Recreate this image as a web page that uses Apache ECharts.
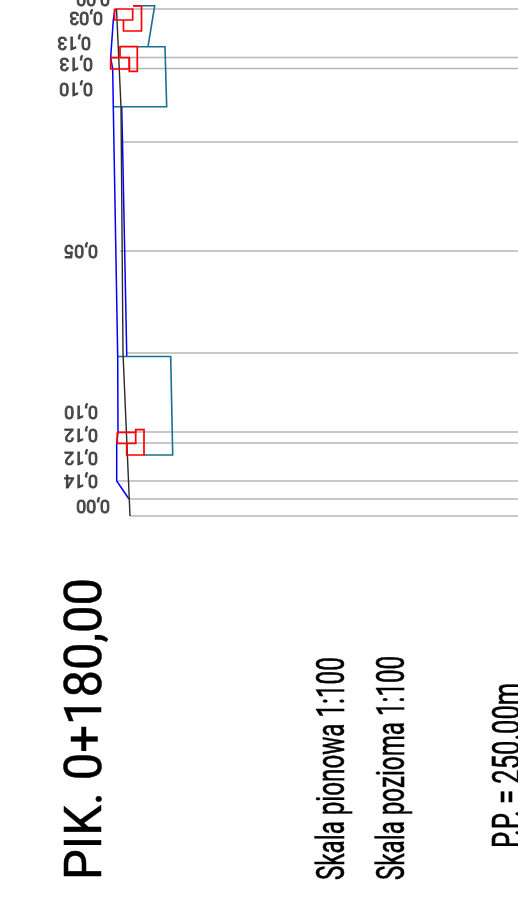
<!DOCTYPE html>
<html>
<head>
<meta charset="utf-8">
<style>html,body{margin:0;padding:0;background:#fff;overflow:hidden}#c{width:518px;height:908px}</style>
<script src="https://cdn.jsdelivr.net/npm/echarts@6/dist/echarts.min.js"></script>
</head>
<body>
<div id="c"></div>
<script>
// grid lines: level (vertical drawing coordinate) and start offset
const levels = [9, 57.5, 68.5, 142, 251, 353, 432, 443, 481, 499, 516];
const levelStarts = [133, 111, 113, 123, 120, 127, 118, 127, 117, 129, 130];
const levelEnd = 518;

// ground and structure profiles, as [offset, level]
const terrainBlack = [[116.5,9],[121,107],[123,353],[130,516]];
const waterBlueLeft = [[115,9],[113.3,20],[110.7,57.5],[112.7,69],[113.3,107],[117.7,356],[118,432],[116.7,443],[116.7,481],[129,499]];
const waterBlueRight = [[121.7,107],[122.5,142],[126.7,353],[126.7,356]];
const tealLower = [[117.7,356.5],[170.7,356.5],[172.7,455],[144,455]];
const tealUpper = [[137,46.7],[165,46.7],[166.7,106.7],[113.3,106.7]];
const tealTop = [[133,5.7],[154.7,5.7],[148,46.7]];
const redA = [[114.5,9],[132.7,9],[132.7,20],[114.5,20],[114.5,9]];
const redB = [[133,6],[141.5,6],[141.5,31],[123.5,31],[123.5,20]];
const redC = [[120,57.7],[120,46.7],[137.3,46.7],[137.3,71.3],[129.3,71.3],[129.3,57.7]];
const redD = [[110.7,57.7],[129.3,57.7],[129.3,69],[110.7,69],[110.7,57.7]];
const redE = [[117.3,432.3],[135.7,432.3],[135.7,443.3],[117.3,443.3],[117.3,432.3]];
const redF = [[135.7,432.3],[135.7,429.7],[144,429.7],[144,455],[126.7,455],[126.7,443.3]];

// slope/height annotations
const annotationText = ['0,00','0,03','0,13','0,13','0,10','0,05','0,10','0,12','0,12','0,14','0,00'];
const annotationX = [110,103,91,93,93,98,98,98,98,98,110];
const annotationY = [-3,16,41,62,87,249,410,433,456,479,504];

const titleText = 'PIK. 0+180,00';
const scaleV = 'Skala pionowa 1:100';
const scaleH = 'Skala pozioma 1:100';
const datumText = 'P.P. = 250.00m';
const FONT = "Roboto, Arial, sans-serif";

function line(data, color, width) {
  return {type:'line', data, showSymbol:false, silent:true, clip:false, animation:false,
    lineStyle:{color, width, cap:'butt', join:'miter'}, itemStyle:{color}};
}
const series = [];
levels.forEach((y,i)=>series.push(line([[levelStarts[i],y],[levelEnd,y]],'#b6b6b6',1.7)));
[tealLower,tealUpper,tealTop].forEach(d=>series.push(line(d,'#1b6f8f',1.6)));
[waterBlueLeft,waterBlueRight].forEach(d=>series.push(line(d,'#0000ff',1.5)));
series.push(line(terrainBlack,'#2a2a2a',1.4));
[redA,redB,redC,redD,redE,redF].forEach(d=>series.push(line(d,'#ff0000',1.7)));
series.push({
  type:'scatter', symbolSize:0, clip:false, silent:true, animation:false,
  data: annotationText.map((t,i)=>({value:[annotationX[i],annotationY[i]],name:t})),
  label:{show:true, formatter:p=>p.name, rotate:180, position:'inside', align:'left', verticalAlign:'middle',
    fontFamily:FONT, fontSize:18, color:'#2a2a2a', textBorderColor:'#2a2a2a', textBorderWidth:0.9}
});

function vtext(text,x,y,size,sx,sw){
  return {type:'text', x, y, rotation:Math.PI/2, scaleX:sx, silent:true,
    style:{text, fontFamily:FONT, fontSize:size, fill:'#000', stroke:'#000', lineWidth:sw, textAlign:'left', textVerticalAlign:'bottom'}};
}

const chart = echarts.init(document.getElementById('c'),null,{renderer:'canvas'});
chart.setOption({
  animation:false,
  backgroundColor:'#ffffff',
  grid:{left:0,top:0,width:518,height:908,containLabel:false},
  xAxis:{type:'value',min:0,max:518,show:false},
  yAxis:{type:'value',min:0,max:908,inverse:true,show:false},
  series,
  graphic:[
    vtext(titleText,114,880,52,0.94,0.5),
    vtext(scaleV,354,880,39,0.62,0.6),
    vtext(scaleH,414,880,39,0.62,0.6),
    vtext(datumText,530,848,39,0.655,0.6)
  ]
});
</script>
</body>
</html>
